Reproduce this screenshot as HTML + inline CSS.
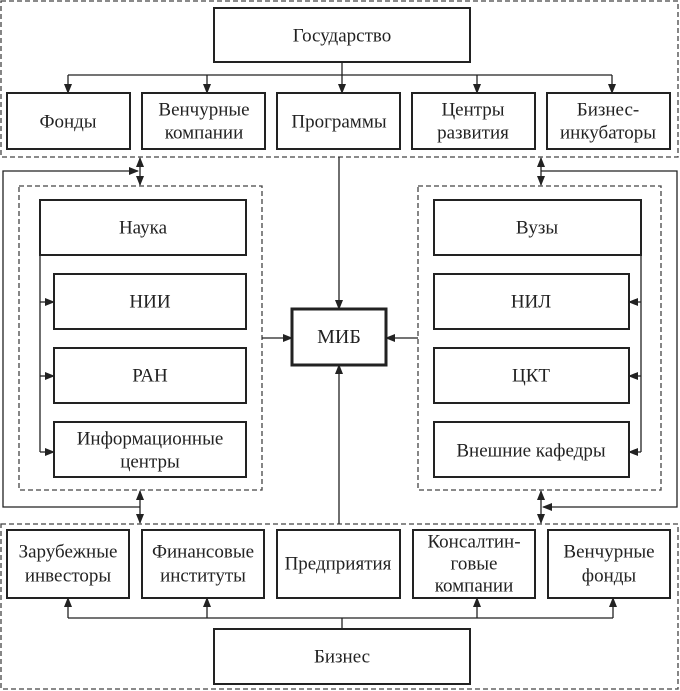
<!DOCTYPE html>
<html><head><meta charset="utf-8"><style>
html,body{margin:0;padding:0;background:#fff;}
svg{display:block}
text{font-family:"Liberation Serif","DejaVu Serif",serif;font-size:19px;fill:#222;text-anchor:middle;dominant-baseline:central}
.b{fill:#fff;stroke:#222;stroke-width:2}
.d{fill:none;stroke:#444;stroke-width:1.3;stroke-dasharray:5,3}
.l{fill:none;stroke:#222;stroke-width:1.3}
</style></head><body>
<svg width="680" height="691" viewBox="0 0 680 691" xmlns="http://www.w3.org/2000/svg">
<defs><marker id="a" markerWidth="10" markerHeight="8" refX="9" refY="4" orient="auto-start-reverse" markerUnits="userSpaceOnUse"><path d="M0,0 L10,4 L0,8 z" fill="#222"/></marker></defs>
<rect class="d" x="1" y="1" width="677" height="156"/>
<rect class="d" x="1" y="524" width="677" height="165"/>
<rect class="d" x="19" y="186" width="243" height="304"/>
<rect class="d" x="418" y="186" width="243" height="304"/>
<rect class="b" x="214" y="8" width="256" height="54"/><text x="342" y="36">Государство</text>
<line class="l" x1="342" y1="62" x2="342" y2="75"/>
<line class="l" x1="68" y1="75" x2="612" y2="75"/>
<g class="l" marker-end="url(#a)">
<line x1="68" y1="75" x2="68" y2="93"/><line x1="207" y1="75" x2="207" y2="93"/><line x1="342" y1="75" x2="342" y2="93"/><line x1="477" y1="75" x2="477" y2="93"/><line x1="612" y1="75" x2="612" y2="93"/>
</g>
<rect class="b" x="7" y="93" width="123" height="56"/><text x="68" y="122">Фонды</text>
<rect class="b" x="142" y="93" width="123" height="56"/><text x="204" y="110">Венчурные</text><text x="204" y="133">компании</text>
<rect class="b" x="277" y="93" width="123" height="56"/><text x="339" y="122">Программы</text>
<rect class="b" x="412" y="93" width="123" height="56"/><text x="473" y="110">Центры</text><text x="473" y="133">развития</text>
<rect class="b" x="547" y="93" width="123" height="56"/><text x="608" y="110">Бизнес-</text><text x="608" y="133">инкубаторы</text>
<rect class="b" x="40" y="200" width="206" height="55"/><text x="143" y="228">Наука</text>
<rect class="b" x="54" y="274" width="192" height="55"/><text x="150" y="302">НИИ</text>
<rect class="b" x="54" y="348" width="192" height="55"/><text x="150" y="376">РАН</text>
<rect class="b" x="54" y="422" width="192" height="55"/><text x="150" y="439">Информационные</text><text x="150" y="462">центры</text>
<line class="l" x1="40" y1="255" x2="40" y2="452"/>
<g class="l" marker-end="url(#a)"><line x1="40" y1="302" x2="54" y2="302"/><line x1="40" y1="376" x2="54" y2="376"/><line x1="40" y1="452" x2="54" y2="452"/></g>
<rect class="b" x="434" y="200" width="207" height="55"/><text x="537" y="228">Вузы</text>
<rect class="b" x="434" y="274" width="195" height="55"/><text x="531" y="302">НИЛ</text>
<rect class="b" x="434" y="348" width="195" height="55"/><text x="531" y="376">ЦКТ</text>
<rect class="b" x="434" y="422" width="195" height="55"/><text x="531" y="451">Внешние кафедры</text>
<line class="l" x1="641" y1="255" x2="641" y2="452"/>
<g class="l" marker-end="url(#a)"><line x1="641" y1="302" x2="629" y2="302"/><line x1="641" y1="376" x2="629" y2="376"/><line x1="641" y1="452" x2="629" y2="452"/></g>
<rect x="292" y="309" width="94" height="56" fill="#fff" stroke="#222" stroke-width="3"/><text x="339" y="337" style="font-size:20px">МИБ</text>
<g class="l" marker-end="url(#a)">
<line x1="339" y1="157" x2="339" y2="309"/>
<line x1="339" y1="524" x2="339" y2="365"/>
<line x1="262" y1="338" x2="292" y2="338"/>
<line x1="418" y1="338" x2="386" y2="338"/>
</g>
<g class="l" marker-end="url(#a)" marker-start="url(#a)">
<line x1="140" y1="158" x2="140" y2="185"/>
<line x1="140" y1="491" x2="140" y2="523"/>
<line x1="541" y1="158" x2="541" y2="185"/>
<line x1="541" y1="491" x2="541" y2="523"/>
</g>
<polyline class="l" points="140,507 3,507 3,171 138,171" marker-end="url(#a)"/>
<polyline class="l" points="541,171 677,171 677,507 543,507" marker-end="url(#a)"/>
<rect class="b" x="7" y="530" width="122" height="68"/><text x="68" y="552">Зарубежные</text><text x="68" y="576">инвесторы</text>
<rect class="b" x="142" y="530" width="122" height="68"/><text x="203" y="552">Финансовые</text><text x="203" y="576">институты</text>
<rect class="b" x="277" y="530" width="123" height="68"/><text x="338" y="564">Предприятия</text>
<rect class="b" x="413" y="530" width="122" height="68"/><text x="474" y="542">Консалтин-</text><text x="474" y="564">говые</text><text x="474" y="586">компании</text>
<rect class="b" x="548" y="530" width="122" height="68"/><text x="609" y="552">Венчурные</text><text x="609" y="576">фонды</text>
<rect class="b" x="214" y="629" width="256" height="55"/><text x="342" y="657">Бизнес</text>
<line class="l" x1="342" y1="629" x2="342" y2="618"/>
<line class="l" x1="68" y1="618" x2="613" y2="618"/>
<g class="l" marker-end="url(#a)">
<line x1="68" y1="618" x2="68" y2="598"/><line x1="207" y1="618" x2="207" y2="598"/><line x1="477" y1="618" x2="477" y2="598"/><line x1="613" y1="618" x2="613" y2="598"/>
</g>
</svg>
</body></html>
